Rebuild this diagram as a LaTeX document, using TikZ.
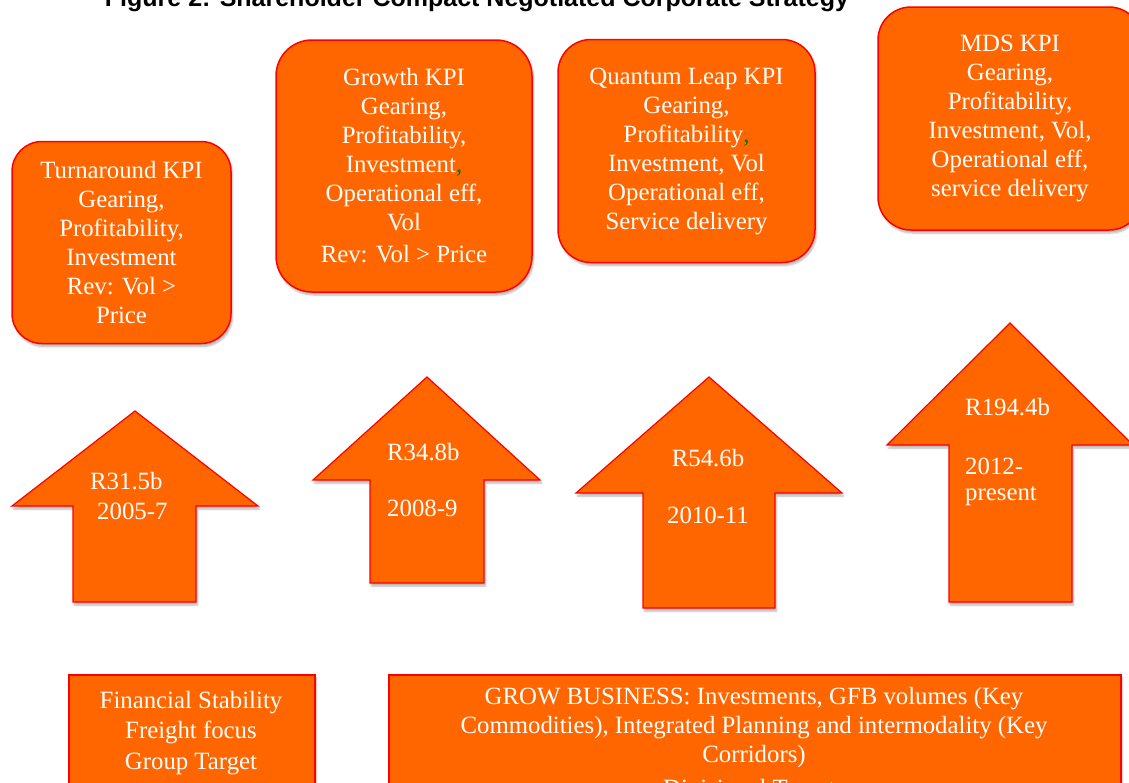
\documentclass[tikz,border=0pt]{standalone}
\usepackage{fontspec}
\setmainfont{Liberation Serif}
\newfontfamily\headfont{Liberation Sans}
\usetikzlibrary{shadows.blur}
\definecolor{boxorange}{RGB}{255,102,0}
\definecolor{edgered}{RGB}{255,0,0}
\definecolor{commagreen}{RGB}{0,120,0}
\newcommand{\gcomma}{\textcolor{commagreen}{,}}

\begin{document}
\begin{tikzpicture}[x=1pt,y=-1pt,
  softshadow/.style={blur shadow={shadow xshift=1.5pt,shadow yshift=-3pt,
      shadow blur steps=6,shadow opacity=30}},
  bodyfont/.style={font=\fontsize{24.8}{29}\selectfont},
  kpibox/.style={shape=rectangle,fill=boxorange,draw=edgered,line width=1.5pt,
      text=white,align=center,bodyfont,inner sep=0pt,softshadow},
  upshape/.style={fill=boxorange,draw=edgered,line width=1.2pt,line join=miter,softshadow},
  flatbox/.style={shape=rectangle,fill=boxorange,draw=edgered,line width=1.5pt,
      inner sep=0pt,softshadow},
  whitetext/.style={text=white,bodyfont,inner sep=0pt}
]
\useasboundingbox (0,0) rectangle (1129,782);
\clip (0,0) rectangle (1129,782);

% heading
\node[anchor=base,inner sep=0pt] (title) at (477,6)
  {\headfont\bfseries\fontsize{25}{30}\selectfont Figure 2: Shareholder Compact Negotiated Corporate Strategy};

% KPI boxes
\node[kpibox,rounded corners=30pt,minimum width=219pt,minimum height=202pt] (turnkpi) at (121.5,242.5)
  {Turnaround KPI\\Gearing,\\Profitability,\\Investment\\Rev: Vol >\\Price};
\node[kpibox,rounded corners=36pt,minimum width=256pt,minimum height=252pt] (growkpi) at (404,166)
  {Growth KPI\\Gearing,\\Profitability,\\Investment\gcomma\\Operational eff,\\Vol\\[3pt]Rev: Vol > Price};
\node[kpibox,rounded corners=33pt,minimum width=257pt,minimum height=223pt] (leapkpi) at (686.5,151)
  {Quantum Leap KPI\\Gearing,\\Profitability\gcomma\\Investment, Vol\\Operational eff,\\Service delivery};
\node[kpibox,rounded corners=33pt,minimum width=264pt,minimum height=223pt] (mdskpi) at (1010,118.5)
  {MDS KPI\\Gearing,\\Profitability,\\Investment, Vol,\\Operational eff,\\service delivery};

% block arrows
\draw[upshape] (135,411) -- (258,506) -- (196,506) -- (196,602) -- (73,602) -- (73,506) -- (12,506) -- cycle;
\draw[upshape] (427,377) -- (540,480) -- (484,480) -- (484,583) -- (370,583) -- (370,480) -- (313,480) -- cycle;
\draw[upshape] (709,377) -- (842,493) -- (775,493) -- (775,608) -- (643,608) -- (643,493) -- (576,493) -- cycle;
\draw[upshape] (1010,323) -- (1133,445) -- (1072,445) -- (1072,602) -- (949,602) -- (949,445) -- (887,445) -- cycle;

% arrow labels
\node[whitetext,anchor=west] (a1val) at (90,481) {R31.5b};
\node[whitetext,anchor=west] (a1yr) at (97,511) {2005-7};
\node[whitetext,anchor=west] (a2val) at (387,452) {R34.8b};
\node[whitetext,anchor=west] (a2yr) at (387,508) {2008-9};
\node[whitetext] (a3val) at (708,458) {R54.6b};
\node[whitetext] (a3yr) at (708,515) {2010-11};
\node[whitetext,anchor=west] (a4val) at (965,407) {R194.4b};
\node[whitetext,anchor=west] (a4yr) at (965,466) {2012-};
\node[whitetext,anchor=base west] (a4now) at (965,500) {present};

% goal boxes
\node[flatbox,anchor=north west,minimum width=246pt,minimum height=140pt] (finbox) at (68,674) {};
\node[flatbox,anchor=north west,minimum width=732pt,minimum height=140pt] (growbox) at (388,674) {};
\node[whitetext,anchor=north,align=center,font=\fontsize{24.8}{30.5}\selectfont] (fintext) at (191,691)
  {Financial Stability\\Freight focus\\Group Target};
\node[whitetext,anchor=north,align=center] (growtext) at (754,687)
  {GROW BUSINESS: Investments, GFB volumes (Key\\Commodities), Integrated Planning and intermodality (Key\\Corridors)\\[5pt]Divisional Targets};
\end{tikzpicture}
\end{document}
